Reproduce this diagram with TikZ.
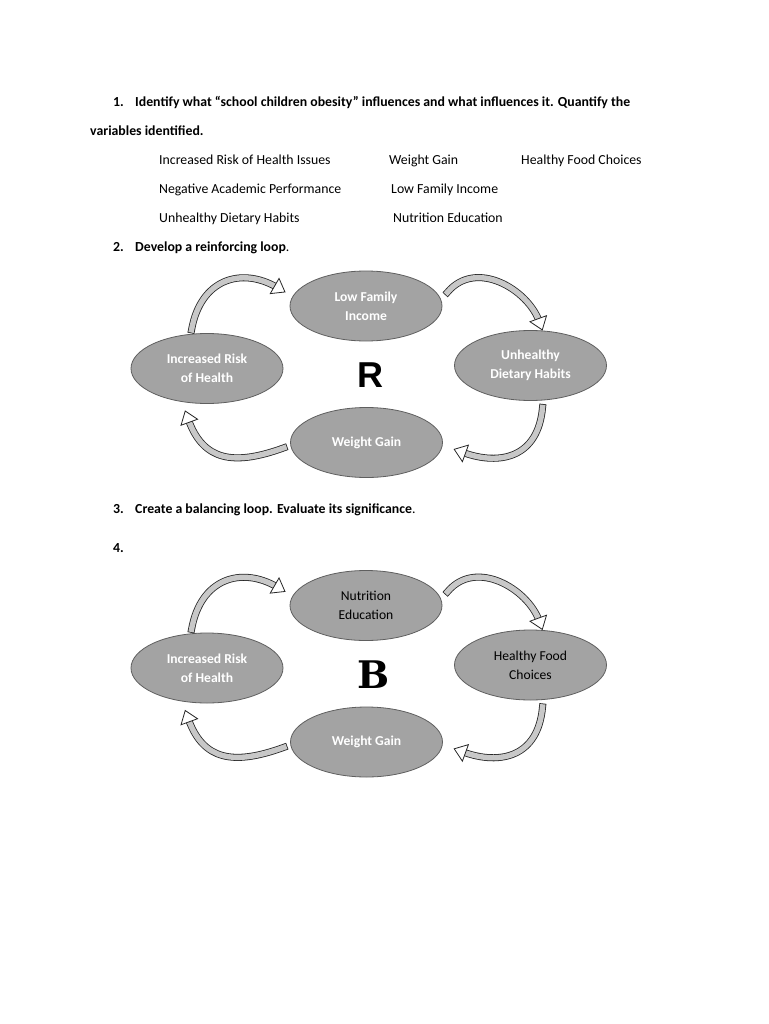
\documentclass[tikz,border=0pt]{standalone}
\usepackage{fontspec}
\setmainfont{Carlito}
\newfontfamily\rfont{Liberation Sans}
\newfontfamily\bfont{DejaVu Serif}
\usetikzlibrary{arrows.meta, shapes.geometric, positioning}

\definecolor{ellfill}{RGB}{163,163,163}
\definecolor{ellline}{RGB}{95,95,95}
\definecolor{shaftgray}{RGB}{200,200,200}

\begin{document}
\begin{tikzpicture}[
    x=1pt, y=-1pt,
    task/.style={anchor=base west, inner sep=0pt, font=\fontsize{13.8}{16}\selectfont\bfseries},
    item/.style={anchor=base west, inner sep=0pt, font=\fontsize{13.8}{16}\selectfont},
    loopvar/.style={
        ellipse, draw=ellline, fill=ellfill, line width=0.8pt,
        minimum width=152pt, minimum height=70pt, inner sep=0pt,
        align=center, text=white, font=\fontsize{13.6}{19}\selectfont\bfseries
    },
    loopvardark/.style={loopvar, text=black, font=\fontsize{13.6}{19}\selectfont},
    loopsign/.style={inner sep=0pt},
    bendarrow/.style={
        draw=shaftgray, line width=0.4pt,
        preaction={draw=black!85, line width=7pt, line cap=rect, -, shorten >=10pt},
        preaction={draw=shaftgray, line width=5.4pt, line cap=rect, -, shorten >=10pt},
        -{Triangle[length=13pt, width=19pt, fill=white, color=black!85, line width=0.8pt]}
    }
]
\fill[white] (0,0) rectangle (768,1024);
\useasboundingbox (0,0) rectangle (768,1024);

% questions and variables
\node[task] (q1num) at (113,106.5) {1.};
\node[task] (q1)    at (135,106.5) {Identify what “school children obesity” influences and what influences it. Quantify the};
\node[task] (q1b)   at (90,135.5)  {variables identified.};

\node[item] (v1) at (159,164.5) {Increased Risk of Health Issues};
\node[item] (v2) at (389,164.5) {Weight Gain};
\node[item] (v3) at (521,164.5) {Healthy Food Choices};
\node[item] (v4) at (159,193.5) {Negative Academic Performance};
\node[item] (v5) at (391,193.5) {Low Family Income};
\node[item] (v6) at (159,222.5) {Unhealthy Dietary Habits};
\node[item] (v7) at (393,222.5) {Nutrition Education};

\node[task] (q2num) at (113,251.5) {2.};
\node[task] (q2)    at (135,251.5) {Develop a reinforcing loop{\mdseries .}};

% reinforcing loop
\node[loopvar] (income1) at (366,306)     {Low Family\\Income};
\node[loopvar] (risk1)   at (207,368.5)   {Increased Risk\\of Health};
\node[loopvar] (diet1)   at (530.5,365.5) {Unhealthy\\Dietary Habits};
\node[loopvar] (gain1)   at (366.5,442.5) {Weight Gain};
\node[loopsign, font=\rfont\bfseries\fontsize{36}{36}\selectfont] (rsign) at (370,375) {R};

\draw[bendarrow] ([yshift=4pt]risk1.114) to[out=80, in=150, looseness=1.3] ([xshift=-10pt]income1.169);
\draw[bendarrow] ([xshift=11pt]income1.11) to[out=50, in=110, looseness=1.1] (diet1.71);
\draw[bendarrow] ([yshift=-7pt]diet1.-71) to[out=-95, in=-20, looseness=1.3] ([xshift=12pt]gain1.-5);
\draw[bendarrow] ([xshift=-7pt]gain1.184) to[out=200, in=-70, looseness=1.3] ([yshift=-8pt]risk1.-123);

\node[task] (q3num) at (113,513.5) {3.};
\node[task] (q3)    at (135,513.5) {Create a balancing loop. Evaluate its significance{\mdseries .}};
\node[task] (q4num) at (113,552.5) {4.};

% balancing loop
\node[loopvardark] (nutri) at (366,605.5)   {Nutrition\\Education};
\node[loopvar]     (risk2) at (207,668)     {Increased Risk\\of Health};
\node[loopvardark] (food)  at (530.5,665)   {Healthy Food\\Choices};
\node[loopvar]     (gain2) at (366.5,742)   {Weight Gain};
\node[loopsign, font=\bfont\bfseries\fontsize{38}{38}\selectfont] (bsign) at (374,675) {B};

\draw[bendarrow] ([yshift=4pt]risk2.114) to[out=80, in=150, looseness=1.3] ([xshift=-10pt]nutri.169);
\draw[bendarrow] ([xshift=11pt]nutri.11) to[out=50, in=110, looseness=1.1] (food.71);
\draw[bendarrow] ([yshift=-7pt]food.-71) to[out=-95, in=-20, looseness=1.3] ([xshift=12pt]gain2.-5);
\draw[bendarrow] ([xshift=-7pt]gain2.184) to[out=200, in=-70, looseness=1.3] ([yshift=-8pt]risk2.-123);

\end{tikzpicture}
\end{document}
